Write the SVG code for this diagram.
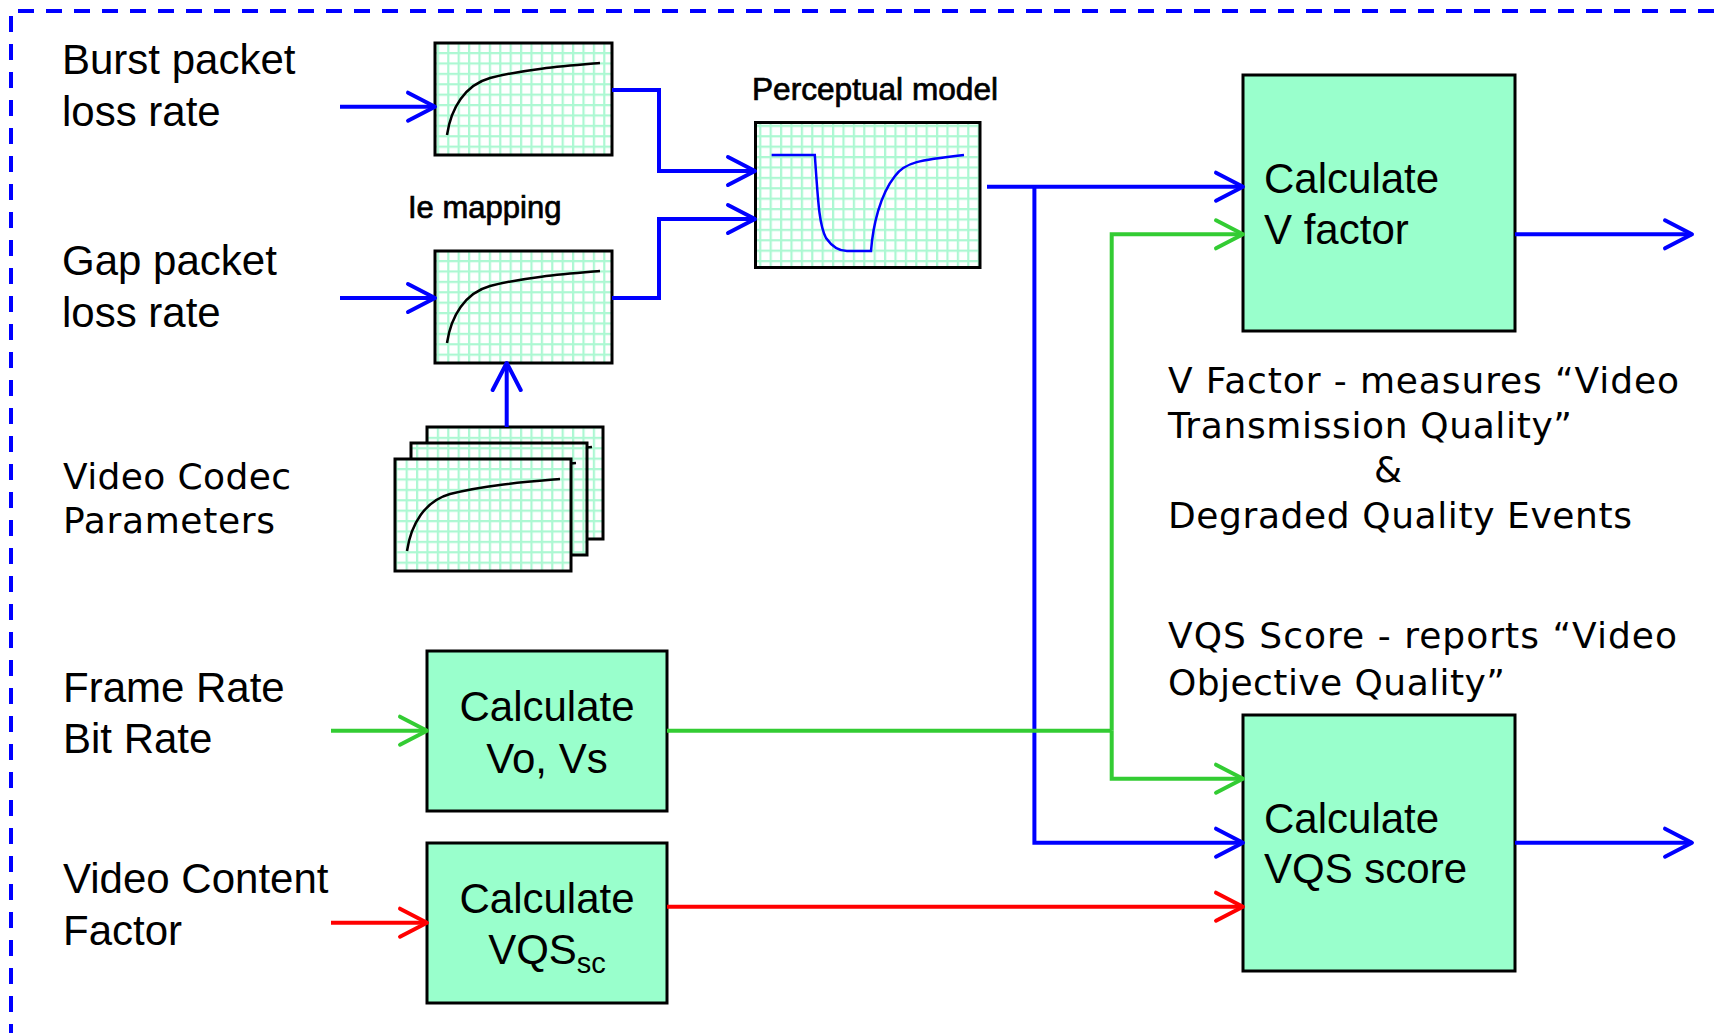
<svg xmlns="http://www.w3.org/2000/svg" width="1720" height="1033" viewBox="0 0 1720 1033">
<style>
.lbl{font-family:"Liberation Sans",Arial,sans-serif;font-size:42px;fill:#000}
.cap{font-family:"Liberation Sans",Arial,sans-serif;font-size:31px;fill:#000;stroke:#000;stroke-width:0.7}
.note{font-family:"DejaVu Sans",Verdana,sans-serif;font-size:36px;fill:#000}
.box{fill:#99FFCC;stroke:#000;stroke-width:3}
.gbox{fill:url(#grid);stroke:#000;stroke-width:3}
.curve{fill:none;stroke:#000;stroke-width:2.5}
.blue{fill:none;stroke:#0000FF;stroke-width:4}
.green{fill:none;stroke:#33CC33;stroke-width:4}
.red{fill:none;stroke:#FF0000;stroke-width:4}
.ab{marker-end:url(#ahB)}
.ag{marker-end:url(#ahG)}
.ar{marker-end:url(#ahR)}
</style>
<defs>
<pattern id="grid" patternUnits="userSpaceOnUse" width="10.4" height="10.4">
<rect width="10.4" height="10.4" fill="#fff"/>
<rect x="0" y="0" width="2.2" height="10.4" fill="#acf8d2"/>
<rect x="0" y="0" width="10.4" height="2.2" fill="#acf8d2"/>
</pattern>
<marker id="ahB" markerUnits="userSpaceOnUse" viewBox="-32 -18 36 36" refX="0" refY="0" markerWidth="36" markerHeight="36" orient="auto" overflow="visible">
<path d="M-27,-14 L0,0 L-27,14" fill="none" stroke="#0000FF" stroke-width="4" stroke-linecap="round" stroke-linejoin="round"/>
</marker>
<marker id="ahG" markerUnits="userSpaceOnUse" viewBox="-32 -18 36 36" refX="0" refY="0" markerWidth="36" markerHeight="36" orient="auto" overflow="visible">
<path d="M-27,-14 L0,0 L-27,14" fill="none" stroke="#33CC33" stroke-width="4" stroke-linecap="round" stroke-linejoin="round"/>
</marker>
<marker id="ahR" markerUnits="userSpaceOnUse" viewBox="-32 -18 36 36" refX="0" refY="0" markerWidth="36" markerHeight="36" orient="auto" overflow="visible">
<path d="M-27,-14 L0,0 L-27,14" fill="none" stroke="#FF0000" stroke-width="4" stroke-linecap="round" stroke-linejoin="round"/>
</marker>
<path id="logc" d="M12,92 C16,65 30,42 55,35 C90,26 130,23 165,20"/>
</defs>
<rect width="1720" height="1033" fill="#fff"/>
<path d="M11,1040 V11 H1725" fill="none" stroke="#0000FF" stroke-width="4" stroke-dasharray="16 12"/>

<g id="label-burst">
<text class="lbl" x="62" y="74">Burst packet</text>
<text class="lbl" x="62" y="126">loss rate</text>
</g>
<g id="label-gap">
<text class="lbl" x="62" y="275">Gap packet</text>
<text class="lbl" x="62" y="327">loss rate</text>
</g>
<g id="label-codec">
<text class="note" x="63" y="489" textLength="228" lengthAdjust="spacing">Video Codec</text>
<text class="note" x="63" y="533" textLength="212" lengthAdjust="spacing">Parameters</text>
</g>
<g id="label-frame">
<text class="lbl" x="63" y="702">Frame Rate</text>
<text class="lbl" x="63" y="753">Bit Rate</text>
</g>
<g id="label-content">
<text class="lbl" x="63" y="893">Video Content</text>
<text class="lbl" x="63" y="945">Factor</text>
</g>

<g id="burst-map">
<rect class="gbox" x="435" y="43" width="177" height="112"/>
<use href="#logc" class="curve" transform="translate(435,43)"/>
</g>
<g id="ie-mapping">
<text class="cap" x="408" y="218">Ie mapping</text>
<rect class="gbox" x="435" y="251" width="177" height="112"/>
<use href="#logc" class="curve" transform="translate(435,251)"/>
</g>
<g id="codec-params">
<rect class="gbox" x="427" y="427" width="176" height="112"/>
<use href="#logc" class="curve" transform="translate(427,427)"/>
<rect class="gbox" x="411" y="443" width="176" height="112"/>
<use href="#logc" class="curve" transform="translate(411,443)"/>
<rect class="gbox" x="395" y="459" width="176" height="112"/>
<use href="#logc" class="curve" transform="translate(395,459)"/>
</g>
<g id="perceptual-model">
<text class="cap" x="752" y="100" textLength="246" lengthAdjust="spacingAndGlyphs">Perceptual model</text>
<rect class="gbox" x="755.5" y="122.5" width="224.5" height="145"/>
<path d="M771.6,155 L814.8,155 C818,200 819,225 826,238 C833,248 840,251 847,251 L871,251 C873,225 880,195 895,176 C905,162 920,160 964,155" fill="none" stroke="#0000FF" stroke-width="2.5"/>
</g>
<g id="calc-v-factor">
<rect class="box" x="1243" y="75" width="272" height="256"/>
<text class="lbl" x="1264" y="193">Calculate</text>
<text class="lbl" x="1264" y="244">V factor</text>
</g>
<g id="calc-vo-vs">
<rect class="box" x="427" y="651" width="240" height="160"/>
<text class="lbl" x="547" y="721" text-anchor="middle">Calculate</text>
<text class="lbl" x="547" y="773" text-anchor="middle">Vo, Vs</text>
</g>
<g id="calc-vqssc">
<rect class="box" x="427" y="843" width="240" height="160"/>
<text class="lbl" x="547" y="913" text-anchor="middle">Calculate</text>
<text class="lbl" x="547" y="964" text-anchor="middle">VQS<tspan font-size="29" dy="9">sc</tspan></text>
</g>
<g id="calc-vqs-score">
<rect class="box" x="1243" y="715" width="272" height="256"/>
<text class="lbl" x="1264" y="833">Calculate</text>
<text class="lbl" x="1264" y="883">VQS score</text>
</g>
<g id="note-vfactor">
<text class="note" x="1168" y="393" textLength="511" lengthAdjust="spacing">V Factor - measures “Video</text>
<text class="note" x="1168" y="438" textLength="404" lengthAdjust="spacing">Transmission Quality”</text>
<text class="note" x="1388" y="482" text-anchor="middle">&amp;</text>
<text class="note" x="1168" y="528" textLength="464" lengthAdjust="spacing">Degraded Quality Events</text>
</g>
<g id="note-vqs">
<text class="note" x="1168" y="648" textLength="509" lengthAdjust="spacing">VQS Score - reports “Video</text>
<text class="note" x="1168" y="695" textLength="337" lengthAdjust="spacing">Objective Quality”</text>
</g>

<g id="connectors">
<path class="blue ab" d="M340,106.7 H435"/>
<path class="blue ab" d="M340,298 H435"/>
<path class="blue ab" d="M612,90 H659 V171 H755"/>
<path class="blue ab" d="M612,298 H659 V219 H755"/>
<path class="blue ab" d="M506.7,427 V363"/>
<path class="blue ab" d="M987,186.7 H1243"/>
<path class="blue ab" d="M1034.4,186.7 V842.7 H1243"/>
<path class="blue ab" d="M1515,234.3 H1692"/>
<path class="blue ab" d="M1515,842.7 H1692"/>
<path class="green ag" d="M331,730.7 H427"/>
<path class="green" d="M667,730.7 H1111.7"/>
<path class="green ag" d="M1111.7,730.7 V234.3 H1243"/>
<path class="green ag" d="M1111.7,730.7 V778.7 H1243"/>
<path class="red ar" d="M331,922.7 H427"/>
<path class="red ar" d="M667,906.7 H1243"/>
</g>
</svg>
